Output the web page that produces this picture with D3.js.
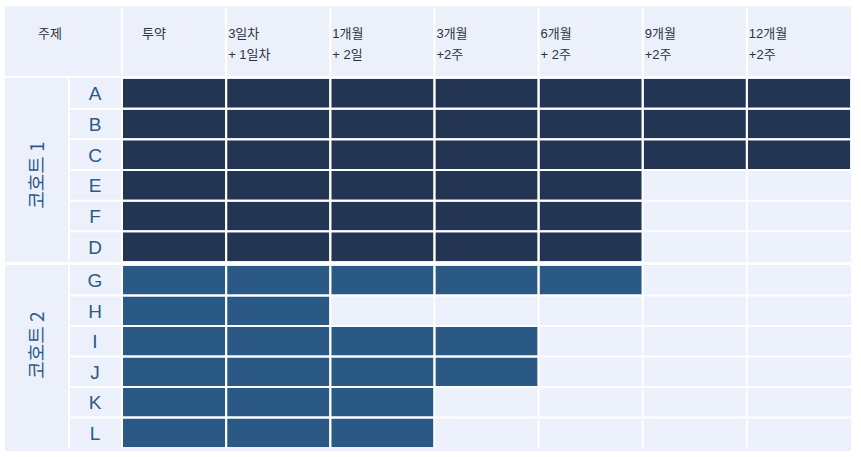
<!DOCTYPE html>
<html><head><meta charset="utf-8">
<script src="https://cdn.jsdelivr.net/npm/d3@7"></script>
<style>body{margin:0;background:#fff;font-family:"Noto Sans CJK KR","Noto Sans",sans-serif;}</style>
</head><body>
<svg id="c" width="861" height="457"></svg>
<script>
const columnsTop = ["투약","3일차","1개월","3개월","6개월","9개월","12개월"];
const columnsBottom = ["","+ 1일차","+ 2일","+2주","+ 2주","+2주","+2주"];
const cohorts = ["코호트 1","코호트 2"];
const cohort1Subjects = ["A","B","C","E","F","D"];
const cohort1Filled = [7,7,7,5,5,5];
const cohort2Subjects = ["G","H","I","J","K","L"];
const cohort2Filled = [5,2,4,4,3,3];
const cohortColors = ["#243553","#2b5986"];

const svg = d3.select("#c");
const bg = "#ebf0fa";
svg.append("rect").attr("x",5).attr("y",6).attr("width",846).attr("height",445).attr("fill",bg);

const x = d3.scaleBand().domain(d3.range(columnsTop.length)).range([122,851]).padding(0);
const groups = [
  {name:cohorts[0], subjects:cohort1Subjects, filled:cohort1Filled, color:cohortColors[0], range:[78,262], labelY:175},
  {name:cohorts[1], subjects:cohort2Subjects, filled:cohort2Filled, color:cohortColors[1], range:[265,448], labelY:345}
];

const header = svg.append("g");
const hFont = "Liberation Sans, 'Noto Sans CJK KR', sans-serif";
header.append("text").attr("x",50).attr("y",38).attr("text-anchor","middle").attr("font-size",13).attr("font-family",hFont).attr("fill","#2a3445").text("주제");
columnsTop.forEach((t,i)=>{
  const x0 = x(i);
  header.append("text").attr("x", i===0 ? x0+20 : x0+2).attr("y",38).attr("font-size",13).attr("font-family",hFont).attr("fill","#2a3445").text(t);
  if(columnsBottom[i]) header.append("text").attr("x",x0+2).attr("y",59).attr("font-size",13).attr("font-family",hFont).attr("fill","#2a3445").text(columnsBottom[i]);
});
d3.range(columnsTop.length).forEach(i=>{
  header.append("line").attr("x1",x(i)).attr("x2",x(i)).attr("y1",8).attr("y2",77).attr("stroke","#ffffff").attr("stroke-width",2);
});
header.append("line").attr("x1",5).attr("x2",851).attr("y1",77).attr("y2",77).attr("stroke","#ffffff").attr("stroke-width",2);

groups.forEach(g=>{
  const y = d3.scaleBand().domain(g.subjects).range(g.range).padding(0);
  const G = svg.append("g");
  g.subjects.forEach((s,r)=>{
    const y0 = y(s), h = y.bandwidth();
    d3.range(columnsTop.length).forEach(c=>{
      const filled = c < g.filled[r];
      G.append("rect").attr("x",x(c)+1).attr("y",y0+1).attr("width",x.bandwidth()-2).attr("height",h-2)
        .attr("fill", filled ? g.color : "#ecf1fb");
    });
    G.append("text").attr("x",95).attr("y",y0+h/2).attr("dy","0.36em").attr("text-anchor","middle")
      .attr("font-family","Liberation Sans, Arial, sans-serif").attr("font-size",19).attr("fill","#2d5a8a").text(s);
    if(r>0) G.append("line").attr("x1",69).attr("x2",851).attr("y1",y0).attr("y2",y0).attr("stroke","#ffffff").attr("stroke-width",2);
  });
  d3.range(columnsTop.length).forEach(c=>{
    G.append("line").attr("x1",x(c)).attr("x2",x(c)).attr("y1",g.range[0]).attr("y2",g.range[1]).attr("stroke","#ffffff").attr("stroke-width",2);
  });
  G.append("line").attr("x1",69).attr("x2",69).attr("y1",g.range[0]).attr("y2",g.range[1]).attr("stroke","#ffffff").attr("stroke-width",2);
  G.append("text").attr("transform",`translate(44,${g.labelY}) rotate(-90)`).attr("text-anchor","middle")
    .attr("font-size",19).attr("fill","#2d5a8a").text(g.name);
});
svg.append("line").attr("x1",5).attr("x2",851).attr("y1",263.5).attr("y2",263.5).attr("stroke","#ffffff").attr("stroke-width",3);
</script>
</body></html>
